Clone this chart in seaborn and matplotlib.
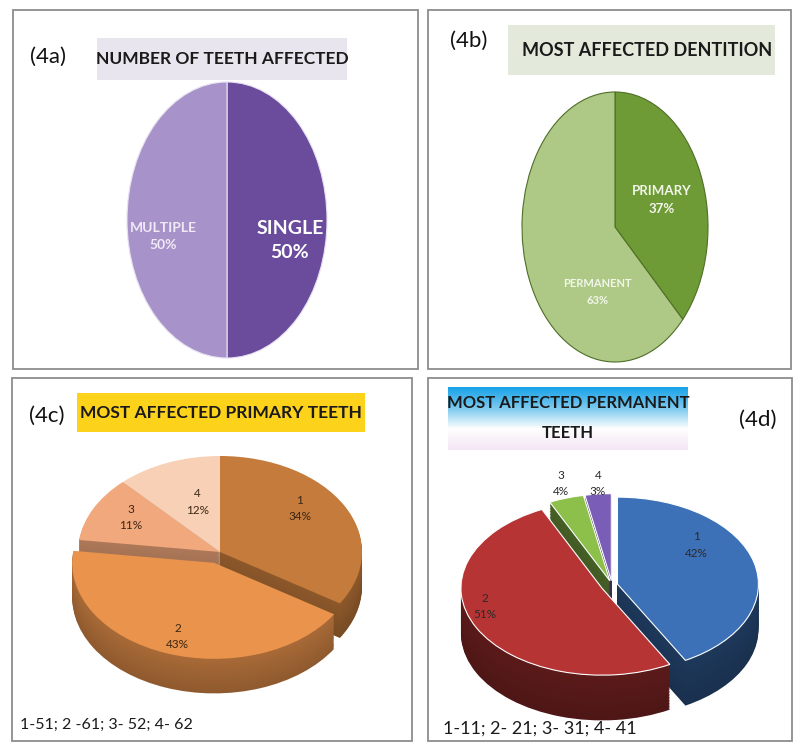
import numpy as np
import matplotlib
matplotlib.use('Agg')
import matplotlib.pyplot as plt
from matplotlib.patches import Rectangle
from matplotlib.colors import to_rgb, LinearSegmentedColormap
import seaborn as sns

# ------------ data ------------
count_labels = ['SINGLE', 'MULTIPLE']
count_pct = [50, 50]

dentition_labels = ['PRIMARY', 'PERMANENT']
dentition_pct = [37, 63]

primary_ids = ['1', '2', '3', '4']
primary_pct = [34, 43, 11, 12]
primary_key = '1-51; 2 -61; 3- 52; 4- 62'

permanent_ids = ['1', '2', '3', '4']
permanent_pct = [42, 51, 4, 3]
permanent_key = '1-11; 2- 21; 3- 31; 4- 41'

# ------------ style ------------
sns.set_theme(style='white')
plt.rcParams['font.family'] = ['Lato', 'DejaVu Sans']

W, H = 794, 742
fig = plt.figure(figsize=(W / 100, H / 100), dpi=100)
fig.patch.set_facecolor('white')


def fx(x):
    return x / W


def fy(y):
    return 1 - y / H


def darker(c, f):
    r, g, b = to_rgb(c)
    return (r * f, g * f, b * f)


def pie_axes(box, cx, cy, rx, ry):
    # box in pixels (x0, y0, x1, y1), y downwards
    x0, y0, x1, y1 = box
    ax = fig.add_axes([fx(x0), fy(y1), (x1 - x0) / W, (y1 - y0) / H])
    lims = ((x0 - cx) / rx, (x1 - cx) / rx), ((cy - y1) / ry, (cy - y0) / ry)
    return ax, lims


def finish(ax, lims):
    ax.set_aspect('auto')
    ax.set_xlim(*lims[0])
    ax.set_ylim(*lims[1])
    ax.axis('off')


def draw_pie(ax, values, colors, explode=None, depth=0.0, side=0.6, edge='white'):
    # stacked darker copies give the 3d side
    n_layers = 30 if depth > 0 else 0
    for k in range(n_layers, 0, -1):
        off = -depth * k / n_layers
        shade = side * (0.85 + 0.15 * (1 - k / max(n_layers, 1)))
        ax.pie(values, colors=[darker(c, shade) for c in colors], explode=explode,
               startangle=90, counterclock=False, center=(0, off),
               wedgeprops=dict(linewidth=0))
    wedges, _ = ax.pie(values, colors=colors, explode=explode, startangle=90,
                       counterclock=False, center=(0, 0),
                       wedgeprops=dict(linewidth=0.8, edgecolor=edge))
    return wedges


def panel_box(x0, y0, x1, y1):
    fig.add_artist(Rectangle((fx(x0), fy(y1)), (x1 - x0) / W, (y1 - y0) / H,
                             transform=fig.transFigure, fill=False,
                             edgecolor='#8c8c8c', linewidth=1.3))


def title_box(x0, y0, x1, y1, color):
    fig.add_artist(Rectangle((fx(x0), fy(y1)), (x1 - x0) / W, (y1 - y0) / H,
                             transform=fig.transFigure, facecolor=color,
                             edgecolor='none', zorder=1))


panel_box(13, 10, 418, 369)
panel_box(428, 10, 791, 369)
panel_box(12, 378, 412, 741)
panel_box(428, 378, 792, 741)

# ------------ (4a) ------------
title_box(97, 38, 347, 80, '#e9e5ee')
fig.text(fx(222), fy(59), 'NUMBER OF TEETH AFFECTED', ha='center', va='center',
         fontsize=12.5, fontweight='bold', color='#1a1a1a', zorder=3)
fig.text(fx(48), fy(57), '(4a)', ha='center', va='center', fontsize=16,
         color='#111111')

ax, lims = pie_axes((20, 80, 410, 362), 227, 220, 100, 138)
draw_pie(ax, count_pct, ['#6a4b9c', '#a793c9'], edge='#e6e0f0')
label_xy_a = [(0.63, -0.15), (-0.64, -0.12)]
label_style_a = [dict(fontsize=14, color='white'), dict(fontsize=10, color='#efeaf6')]
for lab, p, xy, st in zip(count_labels, count_pct, label_xy_a, label_style_a):
    ax.text(xy[0], xy[1], f'{lab}\n{p}%', ha='center', va='center',
            fontweight='bold', linespacing=1.5, **st)
finish(ax, lims)

# ------------ (4b) ------------
title_box(508, 25, 775, 75, '#e4eadb')
fig.text(fx(647), fy(51), 'MOST AFFECTED DENTITION', ha='center', va='center',
         fontsize=13, fontweight='bold', color='#1a1a1a', zorder=3)
fig.text(fx(469), fy(41), '(4b)', ha='center', va='center', fontsize=16,
         color='#111111')

ax, lims = pie_axes((435, 85, 785, 365), 615, 227, 93, 135)
draw_pie(ax, dentition_pct, ['#6f9b37', '#adc985'], edge='#4f6e27')
label_xy_b = [(0.50, 0.20), (-0.19, -0.48)]
label_size_b = [9.5, 8]
for lab, p, xy, fs in zip(dentition_labels, dentition_pct, label_xy_b, label_size_b):
    ax.text(xy[0], xy[1], f'{lab}\n{p}%', ha='center', va='center',
            fontsize=fs, fontweight='bold', color='#f2f6ea', linespacing=1.6)
finish(ax, lims)

# ------------ (4c) ------------
title_box(77, 393, 365, 432, '#fdd21b')
fig.text(fx(221), fy(413), 'MOST AFFECTED PRIMARY TEETH', ha='center', va='center',
         fontsize=12.5, fontweight='bold', color='#1a1a1a', zorder=3)
fig.text(fx(47), fy(416), '(4c)', ha='center', va='center', fontsize=16,
         color='#111111')

ax, lims = pie_axes((20, 440, 405, 715), 220, 552, 142, 96)
draw_pie(ax, primary_pct, ['#c47b3b', '#ea934c', '#f1a87c', '#f7d0b6'],
         explode=[0, 0.12, 0, 0], depth=0.36, side=0.72, edge='none')
label_xy_c = [(0.56, 0.45), (-0.30, -0.88), (-0.63, 0.36), (-0.16, 0.52)]
for lab, p, xy in zip(primary_ids, primary_pct, label_xy_c):
    ax.text(xy[0], xy[1], f'{lab}\n{p}%', ha='center', va='center',
            fontsize=8.5, color='#3b2614', linespacing=1.6)
finish(ax, lims)
fig.text(fx(20), fy(725), primary_key, ha='left', va='center', fontsize=11.5,
         color='#1a1a1a')

# ------------ (4d) ------------
gax = fig.add_axes([fx(448), fy(450), (688 - 448) / W, (450 - 387) / H])
grad = LinearSegmentedColormap.from_list('g', ['#19a3e8', '#7cc9f0', '#ffffff', '#f4e6f4'])
gax.imshow(np.linspace(0, 1, 64).reshape(-1, 1), cmap=grad, aspect='auto')
gax.axis('off')
fig.text(fx(568), fy(403), 'MOST AFFECTED PERMANENT', ha='center', va='center',
         fontsize=12, fontweight='bold', color='#1a1a1a', zorder=3)
fig.text(fx(568), fy(433), 'TEETH', ha='center', va='center',
         fontsize=12, fontweight='bold', color='#1a1a1a', zorder=3)
fig.text(fx(758), fy(420), '(4d)', ha='center', va='center', fontsize=16,
         color='#111111')

ax, lims = pie_axes((435, 470, 785, 718), 612, 585, 141, 87)
draw_pie(ax, permanent_pct, ['#3c71b7', '#b73434', '#8cc04b', '#7a5db6'],
         explode=[0.04, 0.08, 0.05, 0.05], depth=0.52, side=0.5, edge='white')
label_xy_d = [(0.60, 0.46), (-0.90, -0.25), (-0.36, 1.17), (-0.10, 1.17)]
for lab, p, xy in zip(permanent_ids, permanent_pct, label_xy_d):
    ax.text(xy[0], xy[1], f'{lab}\n{p}%', ha='center', va='center',
            fontsize=8.5, color='#2a2a2a', linespacing=1.6)
finish(ax, lims)
fig.text(fx(443), fy(729), permanent_key, ha='left', va='center', fontsize=13,
         color='#1a1a1a')

plt.savefig('out.png', dpi=100, facecolor='white')
